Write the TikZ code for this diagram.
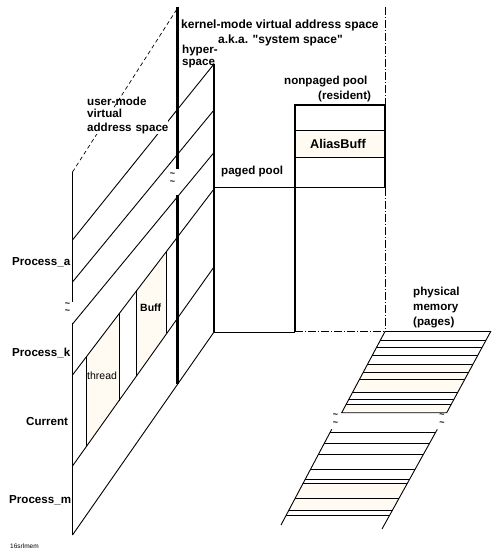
\documentclass[tikz,border=0pt]{standalone}
\usepackage{fontspec}
\setmainfont{Liberation Sans}
\newfontfamily\plainquote{Liberation Sans}
\definecolor{cream}{RGB}{255,251,243}
\tikzset{
  lab/.style={inner sep=0pt,font=\fontsize{11.6}{13}\selectfont\bfseries,align=left},
  biglab/.style={lab,font=\fontsize{12}{13}\selectfont\bfseries},
  thin line/.style={line width=0.9pt},
  thick line/.style={line width=2.4pt},
  heavy line/.style={line width=3pt},
  dd/.style={line width=0.9pt,dash pattern=on 8pt off 2pt on 1pt off 2pt},
  dashl/.style={line width=0.7pt,dash pattern=on 4pt off 3pt},
  wave/.style={inner sep=0pt,align=center,font=\fontsize{9}{7.5}\selectfont\bfseries}
}
\begin{document}
\begin{tikzpicture}[x=1pt,y=-1pt]
\useasboundingbox (0,0) rectangle (498,554);
\fill[white] (0,0) rectangle (498,554);
% fills
\fill[cream] (86.5,357) -- (119.5,313) -- (119.5,400.7) -- (86.5,447) -- cycle;
\fill[cream] (136.5,290) -- (166.5,250.7) -- (166.5,333) -- (136.5,376) -- cycle;
\fill[cream] (295,130) rectangle (385,157.5);
\fill[cream] (366.5,364.3) -- (473,364.3) -- (458.5,392.3) -- (351.5,392.3) -- cycle;
\fill[cream] (346.5,404.3) -- (451.5,404.3) -- (446.7,412.7) -- (341.7,412.7) -- cycle;
\fill[cream] (303,483.3) -- (407,483.3) -- (392,510) -- (288,510) -- cycle;
% user-mode hatch
\draw[dashl] (72.5,172) -- (177,9);
\draw[thin line] (72.5,172) -- (72.5,302);
\draw[thin line] (72.5,323) -- (72.5,535);
\draw[thin line] (72.5,240) -- (214,64);
\draw[thin line] (72.5,282) -- (214,110);
\draw[thin line] (72.5,324) -- (214,152.5);
\draw[thin line] (72.5,375) -- (214,189);
\draw[thin line] (72.5,466) -- (214,267);
\draw[thin line] (72.5,535) -- (214,332);
% process regions
\draw[thin line] (86.5,357) -- (86.5,447);
\draw[thin line] (119.5,313) -- (119.5,400.7);
\draw[thin line] (136.5,290) -- (136.5,376);
\draw[thin line] (166.5,250.7) -- (166.5,333);
% thick uprights
\draw[heavy line] (177.5,7) -- (177.5,168.5);
\draw[heavy line] (177.5,195) -- (177.5,384);
\draw[thick line] (214,64) -- (214,332);
% system space
\draw[thin line] (214,187.5) -- (385,187.5);
\draw[thin line] (214,332) -- (295,332);
\draw[dd] (295,331.5) -- (385,331.5);
\draw[dd] (385,7) -- (385,105);
\draw[dd] (385,188) -- (385,331.5);
\draw[thick line] (295,332) -- (295,105) -- (385,105) -- (385,187.5);
\draw[thin line] (295,130) -- (385,130);
\draw[thin line] (295,157.5) -- (385,157.5);
% physical memory, upper
\draw[thin line] (385,331.5) -- (490.7,331.5) -- (446.7,412.7) -- (341.7,412.7) -- cycle;
\foreach \yy in {340.7,347.3,355.3,364.3,372,379.3,392.3,399.3,404.3}
  \draw[thin line] ({385-(\yy-331.5)*0.5333},\yy) -- ({490.7-(\yy-331.5)*0.5419},\yy);
% physical memory, lower
\draw[thin line] (331.7,429.3) -- (281,525);
\draw[thin line] (437.3,429.3) -- (382,529);
\foreach \yy in {432.7,443.3,454.3,469.3,479.3,483.3,498.3,510,515}
  \draw[thin line] ({331.7-(\yy-429.3)*0.5298},\yy) -- ({437.3-(\yy-429.3)*0.5547},\yy);
% texts
\fill[white] (87,108) rectangle (168,134);
\node[biglab,anchor=west] (kernel) at (181,25) {kernel-mode virtual address space};
\node[biglab,anchor=west] (aka) at (218,40) {a.k.a. {\plainquote\bfseries "system space"}};
\node[lab,anchor=west,text width=40pt] (hyper) at (182,56.5) {hyper-\\space};
\node[lab,anchor=west,text width=90pt] (user) at (87,115) {user-mode\\virtual\\address space};
\node[lab,anchor=west] (paged) at (221,172) {paged pool};
\node[lab,anchor=west] (nonpaged) at (284,82) {nonpaged pool};
\node[lab,anchor=west] (resident) at (318,96) {(resident)};
\node[lab,anchor=center,font=\fontsize{12.7}{14}\selectfont\bfseries] (alias) at (338,144) {AliasBuff};
\node[lab,anchor=west] (pa) at (12,262) {Process\_a};
\node[lab,anchor=west] (pk) at (12,353) {Process\_k};
\node[lab,anchor=west] (cur) at (26,422) {Current};
\node[lab,anchor=west] (pm) at (9,500) {Process\_m};
\node[lab,anchor=west,font=\fontsize{10.5}{12}\selectfont\mdseries] (thr) at (87,376) {thread};
\node[lab,anchor=west,font=\fontsize{10.5}{12}\selectfont\bfseries] (buff) at (140,308) {Buff};
\node[lab,anchor=west,text width=60pt,font=\fontsize{11.6}{14.8}\selectfont\bfseries] (phys) at (413,307.5) {physical\\memory\\(pages)};
\node[lab,anchor=west,font=\fontsize{6.5}{7}\selectfont\mdseries] (fig) at (10,546) {16srlmem};
% break marks
\node[wave] (w1) at (172.5,178.5) {\textasciitilde\\\textasciitilde};
\node[wave] (w2) at (67.5,308) {\textasciitilde\\\textasciitilde};
\node[wave] (w3) at (335.5,419.5) {\textasciitilde\\\textasciitilde};
\node[wave] (w4) at (442,419.5) {\textasciitilde\\\textasciitilde};
\end{tikzpicture}
\end{document}
